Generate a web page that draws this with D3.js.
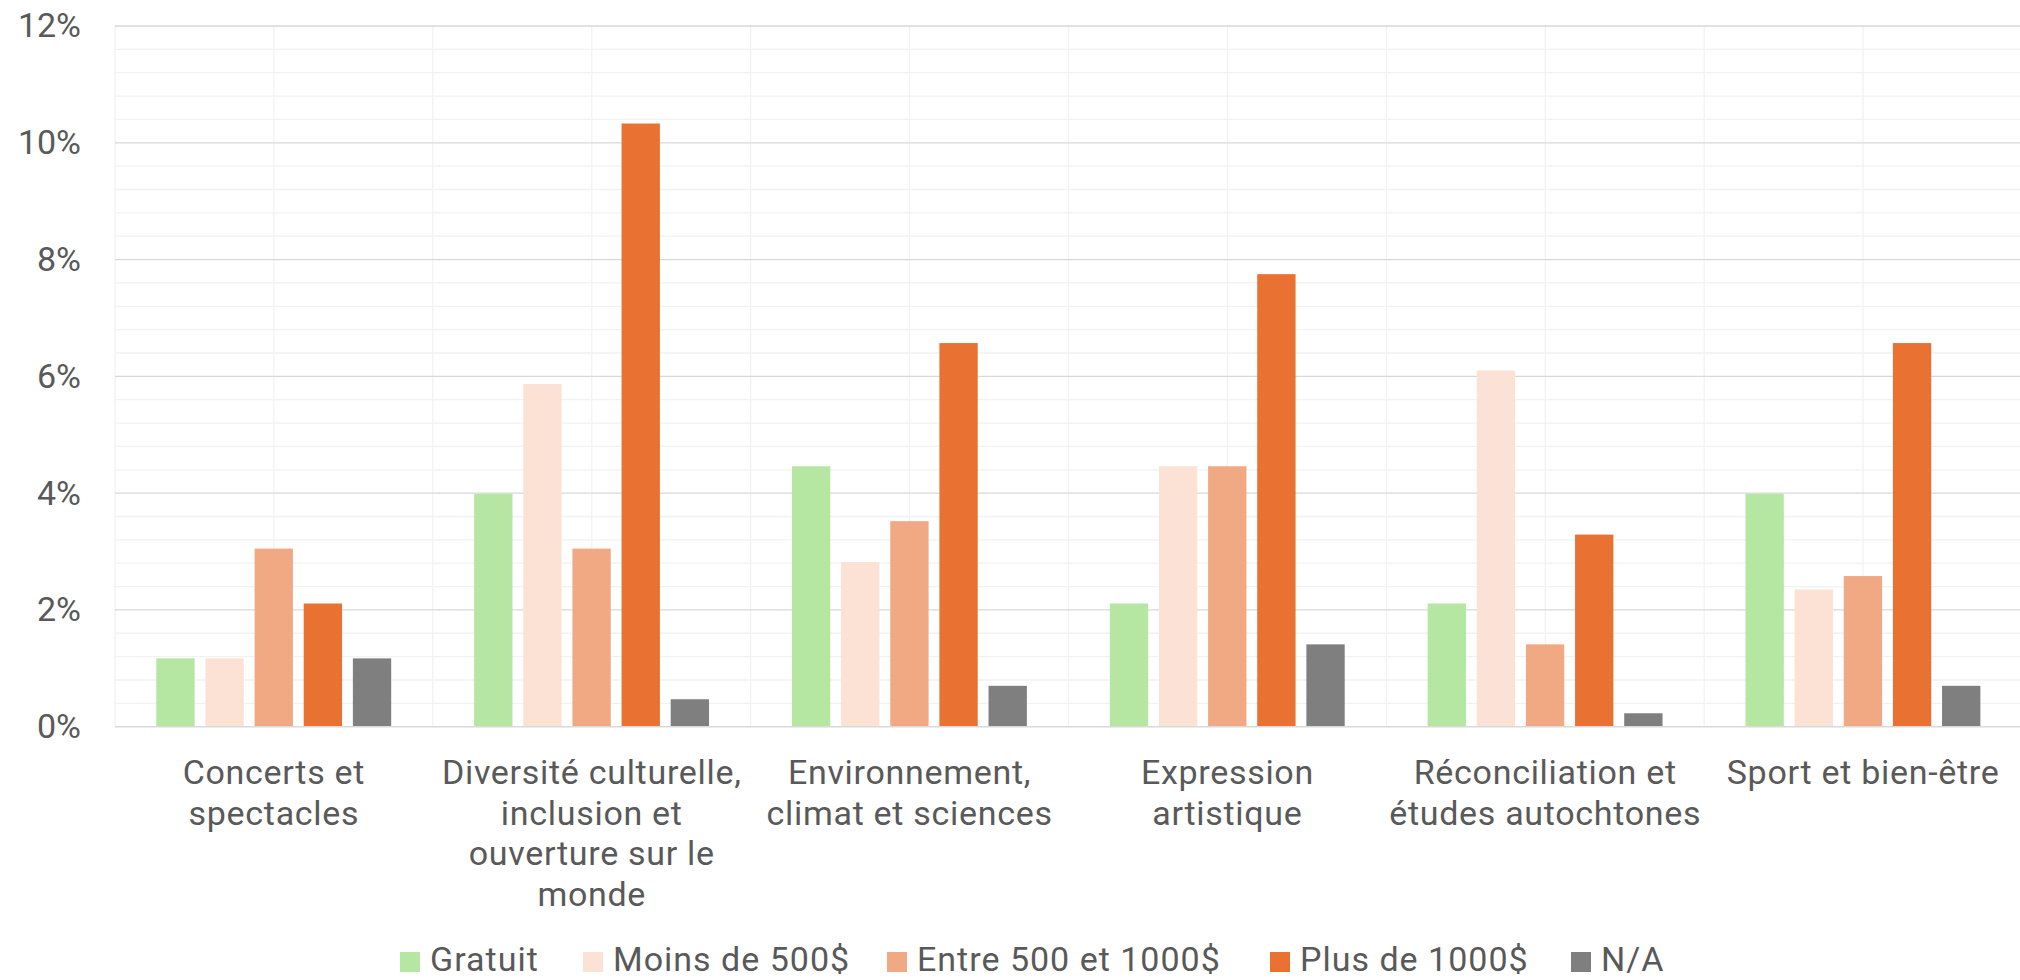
<!DOCTYPE html>
<html>
<head>
<meta charset="utf-8">
<script src="https://cdn.jsdelivr.net/npm/d3@7"></script>
<style>
  html, body { margin: 0; padding: 0; background: #ffffff; }
  svg { display: block; font-family: Roboto, "Noto Sans", sans-serif; }
</style>
</head>
<body>
<svg id="chart" width="2020" height="980"></svg>
<script>
// Activity categories and their wrapped axis labels
const categories = [
  "Concerts et spectacles",
  "Diversité culturelle, inclusion et ouverture sur le monde",
  "Environnement, climat et sciences",
  "Expression artistique",
  "Réconciliation et études autochtones",
  "Sport et bien-être"
];
const categoryLines = [
  ["Concerts et", "spectacles"],
  ["Diversité culturelle,", "inclusion et", "ouverture sur le", "monde"],
  ["Environnement,", "climat et sciences"],
  ["Expression", "artistique"],
  ["Réconciliation et", "études autochtones"],
  ["Sport et bien-être"]
];

// Cost brackets (series) and their colours
const seriesNames = ["Gratuit", "Moins de 500$", "Entre 500 et 1000$", "Plus de 1000$", "N/A"];
const seriesColors = ["#b5e6a2", "#fbe2d5", "#f1a983", "#e97132", "#7f7f7f"];

// Share of responses (%) per category, one array per series
const gratuit       = [1.17, 3.99, 4.46, 2.11, 2.11, 3.99];
const moins500      = [1.17, 5.87, 2.82, 4.46, 6.10, 2.35];
const entre500_1000 = [3.05, 3.05, 3.52, 4.46, 1.41, 2.58];
const plus1000      = [2.11, 10.33, 6.57, 7.75, 3.29, 6.57];
const nonApplicable = [1.17, 0.47, 0.70, 1.41, 0.23, 0.70];
const seriesValues = [gratuit, moins500, entre500_1000, plus1000, nonApplicable];

// Value axis ticks (%)
const yTicks = [0, 2, 4, 6, 8, 10, 12];
const yMinorStep = 0.4;

const svg = d3.select("#chart");
const textColor = "#595959";
const fontSize = 34;

const plot = { left: 115, right: 2022, top: 26, bottom: 726.7 };

const x0 = d3.scaleBand()
  .domain(categories)
  .range([plot.left, plot.right])
  .paddingInner(0)
  .paddingOuter(0);

const bw = x0.bandwidth();
const x1 = d3.scaleBand()
  .domain(seriesNames)
  .range([bw * 0.13, bw * 0.869])
  .paddingInner(0.22)
  .paddingOuter(0);

const y = d3.scaleLinear().domain([0, 12]).range([plot.bottom, plot.top]);

// Minor horizontal gridlines
const minorVals = d3.range(0, 12 + 1e-9, yMinorStep).filter(v => Math.abs(v / 2 - Math.round(v / 2)) > 1e-6);
svg.append("g")
  .selectAll("line")
  .data(minorVals)
  .join("line")
  .attr("x1", plot.left).attr("x2", plot.right)
  .attr("y1", d => y(d)).attr("y2", d => y(d))
  .attr("stroke", "#f2f2f2").attr("stroke-width", 1.3);

// Vertical gridlines at every half category
const vLines = d3.range(0, categories.length * 2 + 1).map(i => plot.left + i * bw / 2);
svg.append("g")
  .selectAll("line")
  .data(vLines)
  .join("line")
  .attr("x1", d => d).attr("x2", d => d)
  .attr("y1", plot.top).attr("y2", plot.bottom)
  .attr("stroke", "#f2f2f2").attr("stroke-width", 1.3);

// Major horizontal gridlines
svg.append("g")
  .selectAll("line")
  .data(yTicks.filter(d => d > 0))
  .join("line")
  .attr("x1", plot.left).attr("x2", plot.right)
  .attr("y1", d => y(d)).attr("y2", d => y(d))
  .attr("stroke", "#d9d9d9").attr("stroke-width", 1.3);

// Bars
const groups = svg.append("g")
  .selectAll("g")
  .data(categories)
  .join("g")
  .attr("transform", d => `translate(${x0(d)},0)`);

groups.selectAll("rect")
  .data((c, i) => seriesNames.map((s, k) => ({ s, k, v: seriesValues[k][i] })))
  .join("rect")
  .attr("x", d => x1(d.s))
  .attr("width", x1.bandwidth())
  .attr("y", d => y(d.v))
  .attr("height", d => y(0) - y(d.v))
  .attr("fill", d => seriesColors[d.k]);

// Category axis baseline
svg.append("line")
  .attr("x1", plot.left).attr("x2", plot.right)
  .attr("y1", y(0)).attr("y2", y(0))
  .attr("stroke", "#d9d9d9").attr("stroke-width", 1.6);

// Value axis labels
const yAxis = d3.axisLeft(y)
  .tickValues(yTicks)
  .tickFormat(d => d + "%")
  .tickSize(0)
  .tickPadding(34);
const yAxisG = svg.append("g")
  .attr("transform", `translate(${plot.left},0)`)
  .call(yAxis);
yAxisG.select(".domain").remove();
yAxisG.selectAll("text")
  .attr("fill", textColor)
  .attr("font-size", fontSize)
  .attr("font-family", "Roboto, sans-serif");

// Category labels
const lineHeight = 40.5;
const catLabels = svg.append("g")
  .selectAll("text")
  .data(categories)
  .join("text")
  .attr("text-anchor", "middle")
  .attr("fill", textColor)
  .attr("font-size", fontSize)
  .attr("letter-spacing", 0.7)
  .attr("x", d => x0(d) + bw / 2)
  .attr("y", 784);
catLabels.each(function (d, i) {
  const t = d3.select(this);
  categoryLines[i].forEach((line, j) => {
    t.append("tspan")
      .attr("x", x0(d) + bw / 2)
      .attr("dy", j === 0 ? 0 : lineHeight)
      .text(line);
  });
});

// Legend: swatch + label per series, laid out left to right
const legendX = [400, 583, 887, 1270, 1571];
const sq = 20;
const legend = svg.append("g");
seriesNames.forEach((name, k) => {
  legend.append("rect")
    .attr("x", legendX[k]).attr("y", 952)
    .attr("width", sq).attr("height", sq)
    .attr("fill", seriesColors[k]);
  legend.append("text")
    .attr("x", legendX[k] + sq + 10)
    .attr("y", 971)
    .attr("fill", textColor)
    .attr("font-size", fontSize)
    .attr("letter-spacing", 1)
    .text(name);
});
</script>
</body>
</html>
